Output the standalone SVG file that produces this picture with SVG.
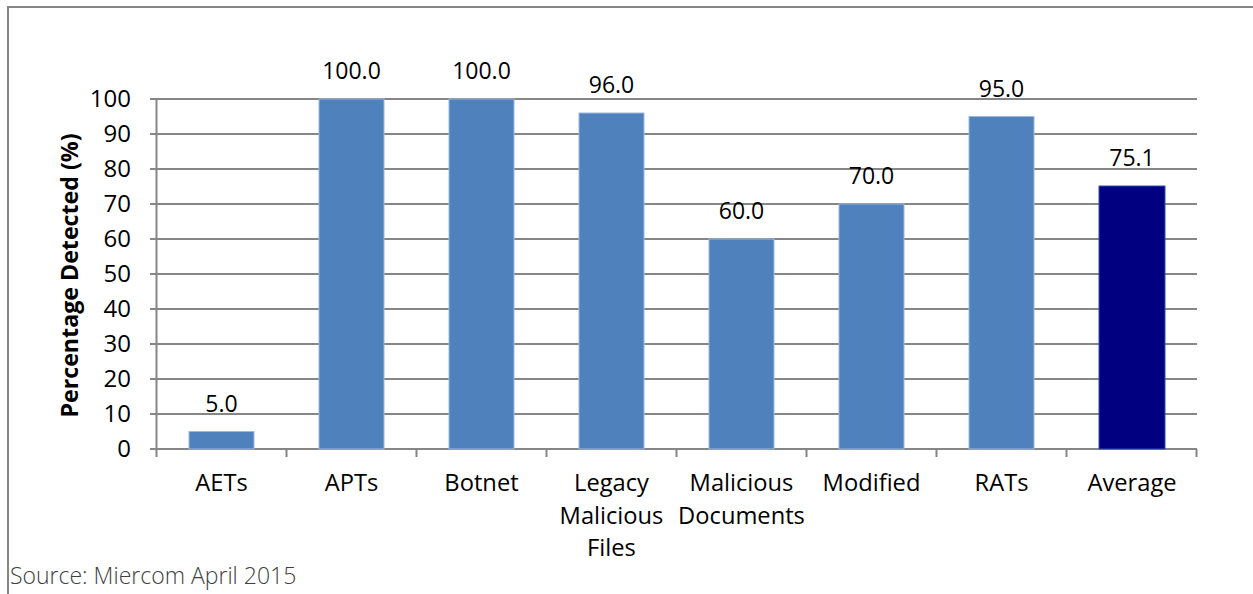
<svg xmlns="http://www.w3.org/2000/svg" width="1253" height="594" viewBox="0 0 1253 594">
<style>
.t{font-family:"Open Sans","Noto Sans","Liberation Sans",sans-serif;font-size:23px;fill:#000}
.v{text-anchor:middle}
.c{font-size:23.7px}
.grid{stroke:#868686;stroke-width:2}
.bar{fill:#4F81BD;stroke:#9DB8DC;stroke-width:1}
.avg{fill:#000080;stroke:#3050B0;stroke-width:1}
</style>
<rect x="0" y="0" width="1253" height="594" fill="#fff"/>
<path d="M8 594V7H1253" fill="none" stroke="#868686" stroke-width="2"/>
<g id="grid">
<path class="grid" d="M150 99H1197M150 134H1197M150 169H1197M150 204H1197M150 239H1197M150 274H1197M150 309H1197M150 344H1197M150 379H1197M150 414H1197M150 449H1197"/>
<path class="grid" d="M156.5 99V449M156.5 449V457M286.5 449V457M416.5 449V457M546.5 449V457M676.5 449V457M806.5 449V457M936.5 449V457M1066.5 449V457M1196.5 449V457"/>
</g>
<g id="yticks" class="t" text-anchor="end" style="font-size:24px">
<text x="131" y="106.5">100</text>
<text x="131" y="141.5">90</text>
<text x="131" y="176.5">80</text>
<text x="131" y="211.5">70</text>
<text x="131" y="246.5">60</text>
<text x="131" y="281.5">50</text>
<text x="131" y="316.5">40</text>
<text x="131" y="351.5">30</text>
<text x="131" y="386.5">20</text>
<text x="131" y="421.5">10</text>
<text x="131" y="456.5">0</text>
</g>
<text class="t" transform="translate(78 275.5) rotate(-90)" text-anchor="middle" style="font-weight:bold;font-size:23.2px">Percentage Detected (%)</text>
<g id="bar-aets"><rect class="bar" x="189" y="431.5" width="65" height="17.5"/><text class="t v" x="221.5" y="412">5.0</text><text class="t v c" x="221.5" y="491">AETs</text></g>
<g id="bar-apts"><rect class="bar" x="319" y="99" width="65" height="350"/><text class="t v" x="351.5" y="79">100.0</text><text class="t v c" x="351.5" y="491">APTs</text></g>
<g id="bar-botnet"><rect class="bar" x="449" y="99" width="65" height="350"/><text class="t v" x="481.5" y="79">100.0</text><text class="t v c" x="481.5" y="491">Botnet</text></g>
<g id="bar-legacy"><rect class="bar" x="579" y="113" width="65" height="336"/><text class="t v" x="611.5" y="93">96.0</text><text class="t v c" x="611.5" y="491">Legacy</text><text class="t v c" x="611.5" y="524">Malicious</text><text class="t v c" x="611.5" y="556">Files</text></g>
<g id="bar-maldocs"><rect class="bar" x="709" y="239" width="65" height="210"/><text class="t v" x="741.5" y="219">60.0</text><text class="t v c" x="741.5" y="491">Malicious</text><text class="t v c" x="741.5" y="524">Documents</text></g>
<g id="bar-modified"><rect class="bar" x="839" y="204" width="65" height="245"/><text class="t v" x="871.5" y="184">70.0</text><text class="t v c" x="871.5" y="491">Modified</text></g>
<g id="bar-rats"><rect class="bar" x="969" y="116.5" width="65" height="332.5"/><text class="t v" x="1001.5" y="96.5">95.0</text><text class="t v c" x="1001.5" y="491">RATs</text></g>
<g id="bar-average"><rect class="avg" x="1099" y="186" width="66" height="263"/><text class="t v" x="1132" y="166">75.1</text><text class="t v c" x="1132" y="491">Average</text></g>
<text class="t" x="10" y="584" style="fill:#404040;font-weight:300;font-size:23px">Source: Miercom April 2015</text>
</svg>
